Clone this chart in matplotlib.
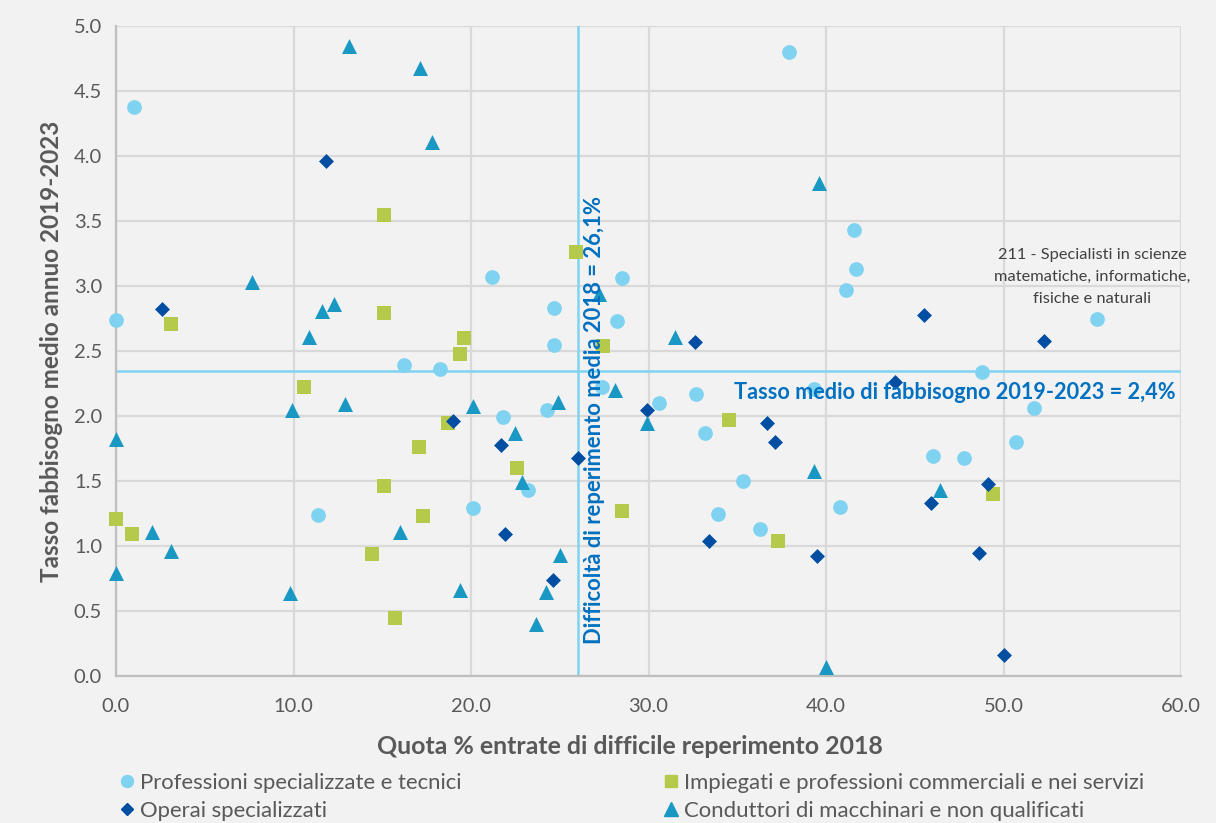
import matplotlib.pyplot as plt
from matplotlib.lines import Line2D

plt.rcParams['font.family'] = ['Lato', 'DejaVu Sans']

# Professioni specializzate e tecnici
prof_x = [1.0, 0.0, 21.2, 24.7, 24.7, 28.5, 28.2, 16.2, 18.25, 21.8, 24.3, 27.4, 30.6,
          32.7, 33.2, 35.3, 33.9, 36.3, 40.8, 20.1, 23.2, 11.4, 37.9, 41.6, 41.7, 41.1,
          55.25, 48.8, 51.7, 50.7, 46.0, 47.8, 39.3]
prof_y = [4.38, 2.74, 3.07, 2.83, 2.55, 3.06, 2.73, 2.39, 2.36, 1.99, 2.05, 2.22, 2.10,
          2.17, 1.87, 1.50, 1.25, 1.13, 1.30, 1.29, 1.43, 1.24, 4.80, 3.43, 3.13, 2.97,
          2.75, 2.34, 2.06, 1.80, 1.69, 1.68, 2.21]

# Impiegati e professioni commerciali e nei servizi
imp_x = [15.1, 15.1, 3.08, 19.6, 19.4, 25.9, 27.45, 10.6, 18.7, 17.05, 15.1, 17.3,
         14.4, 15.7, 0.0, 0.9, 22.6, 28.5, 34.55, 37.3, 49.4]
imp_y = [3.55, 2.79, 2.71, 2.60, 2.48, 3.26, 2.54, 2.22, 1.95, 1.76, 1.46, 1.23,
         0.94, 0.45, 1.21, 1.09, 1.60, 1.27, 1.97, 1.04, 1.40]

# Operai specializzati
op_x = [11.85, 2.6, 32.6, 45.5, 52.3, 19.0, 21.7, 26.0, 29.9, 21.9, 24.6, 33.4, 36.7,
        37.1, 39.5, 43.9, 45.9, 49.1, 48.6, 50.0]
op_y = [3.96, 2.82, 2.57, 2.78, 2.58, 1.96, 1.78, 1.68, 2.05, 1.09, 0.74, 1.04, 1.95,
        1.80, 0.92, 2.26, 1.33, 1.48, 0.95, 0.16]

# Conduttori di macchinari e non qualificati
cond_x = [13.1, 17.15, 17.8, 7.65, 12.3, 11.6, 10.9, 39.6, 31.5, 27.2, 9.93, 12.9, 20.1,
          0.0, 2.0, 3.1, 0.0, 9.8, 16.0, 19.4, 22.5, 24.9, 22.9, 28.1, 29.9, 25.0, 24.2,
          23.65, 39.3, 40.0, 46.45]
cond_y = [4.85, 4.68, 4.11, 3.03, 2.86, 2.81, 2.61, 3.79, 2.61, 2.94, 2.05, 2.09, 2.08,
          1.82, 1.11, 0.96, 0.79, 0.64, 1.11, 0.66, 1.87, 2.11, 1.49, 2.20, 1.95, 0.93, 0.65,
          0.40, 1.58, 0.07, 1.43]

media_x = 26.0
media_y = 2.35

c_prof = '#7FD3F0'
c_imp = '#B5CA4A'
c_op = '#004EA2'
c_cond = '#1998C4'
c_line = '#7FD3F0'
c_txt = '#0070C0'
c_grey = '#595959'

fig = plt.figure(figsize=(12.16, 8.23), dpi=100, facecolor='#F2F2F2')
ax = fig.add_axes([116/1216, 1-676/823, (1181-116)/1216, (676-26)/823])
ax.set_facecolor('#F2F2F2')

ax.set_xlim(0, 60)
ax.set_ylim(0, 5)
ax.set_xticks(range(0, 61, 10))
ax.set_xticklabels([f'{v:.1f}' for v in range(0, 61, 10)])
ax.set_yticks([i * 0.5 for i in range(11)])
ax.set_yticklabels([f'{i*0.5:.1f}' for i in range(11)])
ax.grid(True, color='#D9D9D9', linewidth=1.6)
ax.set_axisbelow(True)
for s in ['top', 'right']:
    ax.spines[s].set_visible(False)
for s in ['left', 'bottom']:
    ax.spines[s].set_color('#BFBFBF')
    ax.spines[s].set_linewidth(1.6)
ax.tick_params(length=0, labelsize=14.5, colors=c_grey)
ax.tick_params(axis='x', pad=15.5)
ax.tick_params(axis='y', pad=10)

ax.axvline(media_x, color=c_line, linewidth=1.8, zorder=2)
ax.axhline(media_y, color=c_line, linewidth=1.8, zorder=2)

ax.scatter(prof_x, prof_y, s=10.6**2, marker='o', color=c_prof, zorder=3, clip_on=False, linewidths=0)
ax.scatter(imp_x, imp_y, s=10.5**2, marker='s', color=c_imp, zorder=3, clip_on=False, linewidths=0)
ax.scatter(op_x, op_y, s=7.6**2, marker='D', color=c_op, zorder=3, clip_on=False, linewidths=0)
ax.scatter(cond_x, cond_y, s=10.8**2, marker='^', color=c_cond, zorder=3, clip_on=False, linewidths=0)

ax.text(26.35, 0.25, 'Difficoltà di reperimento media 2018 = 26,1%', rotation=90,
        ha='left', va='bottom', color=c_txt, fontsize=15.8, fontweight='bold', zorder=4)
ax.text(59.7, 2.18, 'Tasso medio di fabbisogno 2019-2023 = 2,4%', ha='right', va='center',
        color=c_txt, fontsize=15.6, fontweight='bold', zorder=4)
ax.text(55.0, 3.07, '211 - Specialisti in scienze\nmatematiche, informatiche,\nfisiche e naturali',
        ha='center', va='center', color='#404040', fontsize=11.8, linespacing=1.72, zorder=4)

ax.set_xlabel('Quota % entrate di difficile reperimento 2018', fontsize=17.9, fontweight='bold',
              color=c_grey, labelpad=15)
ax.xaxis.label.set_x((630 - 116) / 1065)
ax.set_ylabel('Tasso fabbisogno medio annuo 2019-2023', fontsize=17.5, fontweight='bold',
              color=c_grey, labelpad=8)

h_prof = Line2D([], [], marker='o', linestyle='none', color=c_prof, markersize=8.6)
h_op = Line2D([], [], marker='D', linestyle='none', color=c_op, markersize=6.6)
h_imp = Line2D([], [], marker='s', linestyle='none', color=c_imp, markersize=9.2)
h_cond = Line2D([], [], marker='^', linestyle='none', color=c_cond, markersize=9.5)

leg_kw = dict(loc='center left', frameon=False, fontsize=15.9, handletextpad=0.2,
              handlelength=0.8, labelspacing=0.38, borderpad=0, borderaxespad=0)
leg1 = fig.legend([h_prof, h_op], ['Professioni specializzate e tecnici', 'Operai specializzati'],
                  bbox_to_anchor=(118/1216, 1-797/823), **leg_kw)
leg2 = fig.legend([h_imp, h_cond], ['Impiegati e professioni commerciali e nei servizi',
                                    'Conduttori di macchinari e non qualificati'],
                  bbox_to_anchor=(662/1216, 1-797/823), **leg_kw)
for leg in (leg1, leg2):
    for t in leg.get_texts():
        t.set_color(c_grey)

fig.savefig('out.png', dpi=100, facecolor='#F2F2F2')
